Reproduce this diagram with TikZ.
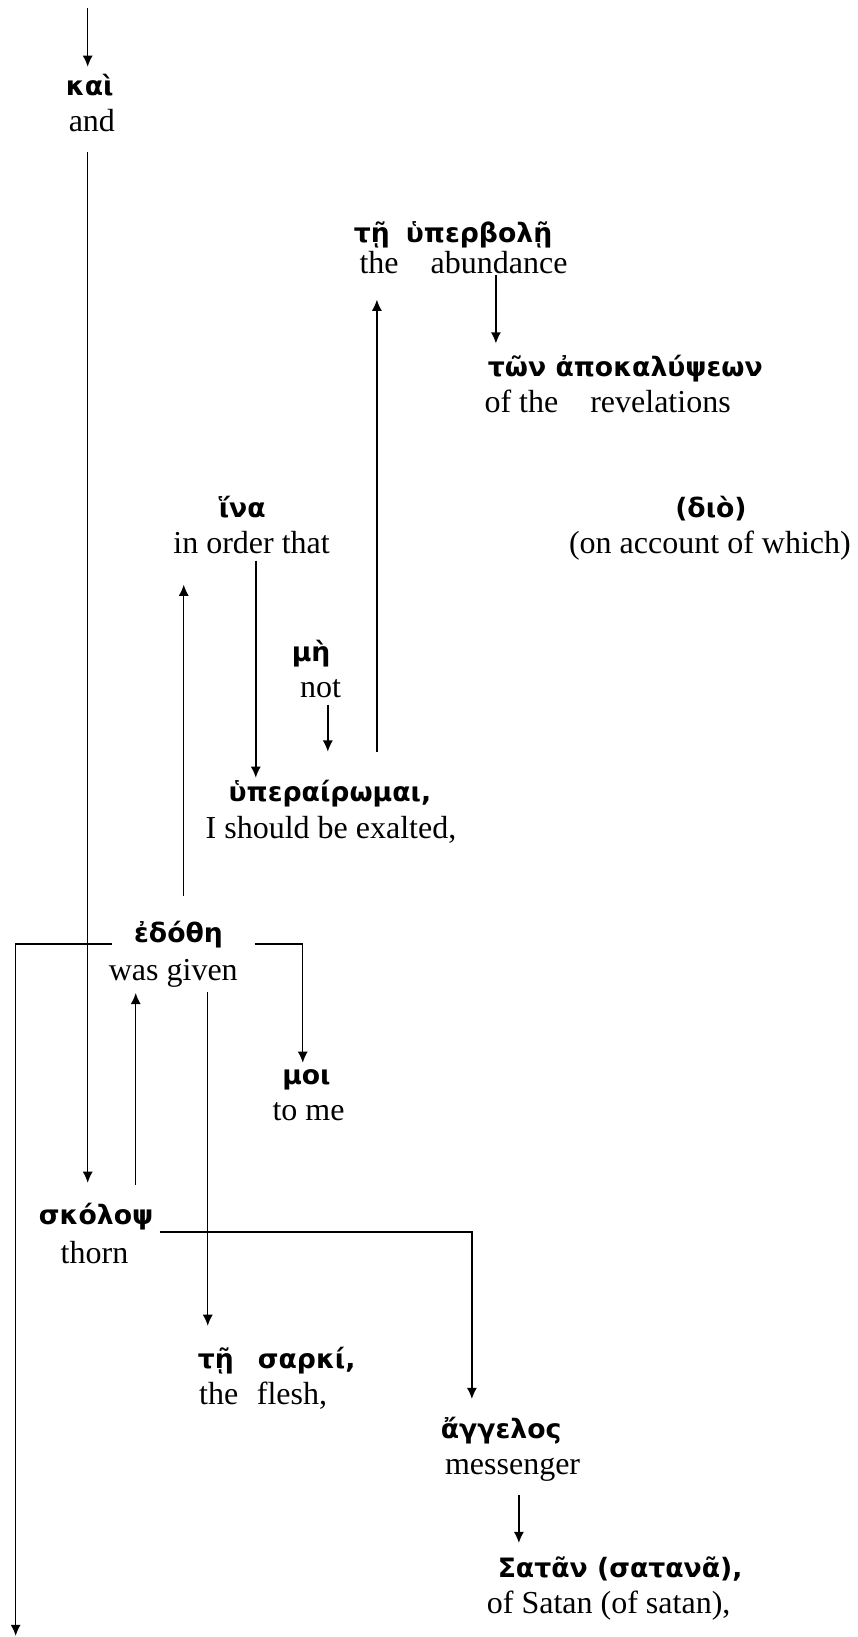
\documentclass[tikz,border=0pt]{standalone}
\usepackage{fontspec}
\setmainfont{Liberation Serif}
\newfontfamily\grk{DejaVu Sans}
\usetikzlibrary{arrows.meta}
\begin{document}
\begin{tikzpicture}[x=0.3915pt,y=-0.3915pt,
  gk/.style={font=\grk\bfseries\fontsize{10}{12}\selectfont, inner sep=0pt, anchor=base},
  en/.style={font=\fontsize{12}{14}\selectfont, inner sep=0pt, anchor=base},
  arr/.style={line width=0.55pt,-{Latex[length=4.2pt,width=3.8pt]}},
  ln/.style={line width=0.55pt}]
\useasboundingbox (0,0) rectangle (821,1568);
% ---- words ----
\node[gk] (kai) at (86,91) {καὶ};
\node[en] (kaiE) at (88,126) {and};
\node[gk] (hyp) at (434,232) {τῇ\hspace{6pt}ὑπερβολῇ};
\node[en] (hypE) at (444,261.5) {the\hspace{12pt}abundance};
\node[gk] (apok) at (599,361) {τῶν ἀποκαλύψεων};
\node[en] (apokE) at (582,395) {of the\hspace{12pt}revelations};
\node[gk] (hina) at (232,496) {ἵνα};
\node[en] (hinaE) at (241,530) {in order that};
\node[gk] (dio) at (681,496) {(διὸ)};
\node[en] (dioE) at (680,530) {(on account of which)};
\node[gk] (me) at (298,634) {μὴ};
\node[en] (meE) at (307,668) {not};
\node[gk] (hyper) at (316,768) {ὑπεραίρωμαι,};
\node[en] (hyperE) at (317,803) {I should be exalted,};
\node[gk] (edothe) at (171,903) {ἐδόθη};
\node[en] (edotheE) at (166,939) {was given};
\node[gk] (moi) at (293.5,1039) {μοι};
\node[en] (moiE) at (295.5,1073) {to me};
\node[gk] (skolops) at (92,1173) {σκόλοψ};
\node[en] (skolopsE) at (90.5,1210) {thorn};
\node[gk] (sarki) at (265,1311) {τῇ\hspace{9pt}σαρκί,};
\node[en] (sarkiE) at (252,1345) {the\hspace{7pt}flesh,};
\node[gk] (angelos) at (480,1378) {ἄγγελος};
\node[en] (angelosE) at (491,1412) {messenger};
\node[gk] (satan) at (594,1511) {Σατᾶν (σατανᾶ),};
\node[en] (satanE) at (583,1545) {of Satan (of satan),};
% ---- connector ends ----
\coordinate (top) at (84,8);
\coordinate (kaiIn) at (84,64);
\coordinate (kaiOut) at (84,146);
\coordinate (skIn) at (84,1133);
\coordinate (abOut) at (475,263);
\coordinate (apIn) at (475,329);
\coordinate (hyOut) at (361,720);
\coordinate (hypIn) at (361,287);
\coordinate (hiOut) at (245,537);
\coordinate (hyIn1) at (245,745);
\coordinate (meOut) at (314,675);
\coordinate (hyIn2) at (314,720);
\coordinate (edUp) at (176,858);
\coordinate (hiIn) at (176,560);
\coordinate (edL) at (107,904);
\coordinate (cornL) at (15,904);
\coordinate (bottom) at (15,1567);
\coordinate (edR) at (244,904);
\coordinate (cornR) at (290,904);
\coordinate (moiIn) at (290,1018);
\coordinate (skUp) at (130,1135);
\coordinate (edIn) at (130,951);
\coordinate (edDown) at (199,950);
\coordinate (saIn) at (199,1270);
\coordinate (skR) at (153,1180);
\coordinate (cornS) at (452,1180);
\coordinate (anIn) at (452,1340);
\coordinate (meOut2) at (497,1432);
\coordinate (satIn) at (497,1478);
% ---- connectors ----
\draw[arr] (top) -- (kaiIn);
\draw[arr] (kaiOut) -- (skIn);
\draw[arr] (abOut) -- (apIn);
\draw[arr] (hyOut) -- (hypIn);
\draw[arr] (hiOut) -- (hyIn1);
\draw[arr] (meOut) -- (hyIn2);
\draw[arr] (edUp) -- (hiIn);
\draw[arr] (edL) -- (cornL) -- (bottom);
\draw[arr] (edR) -- (cornR) -- (moiIn);
\draw[arr] (skUp) -- (edIn);
\draw[arr] (edDown) -- (saIn);
\draw[arr] (skR) -- (cornS) -- (anIn);
\draw[arr] (meOut2) -- (satIn);
\end{tikzpicture}
\end{document}
